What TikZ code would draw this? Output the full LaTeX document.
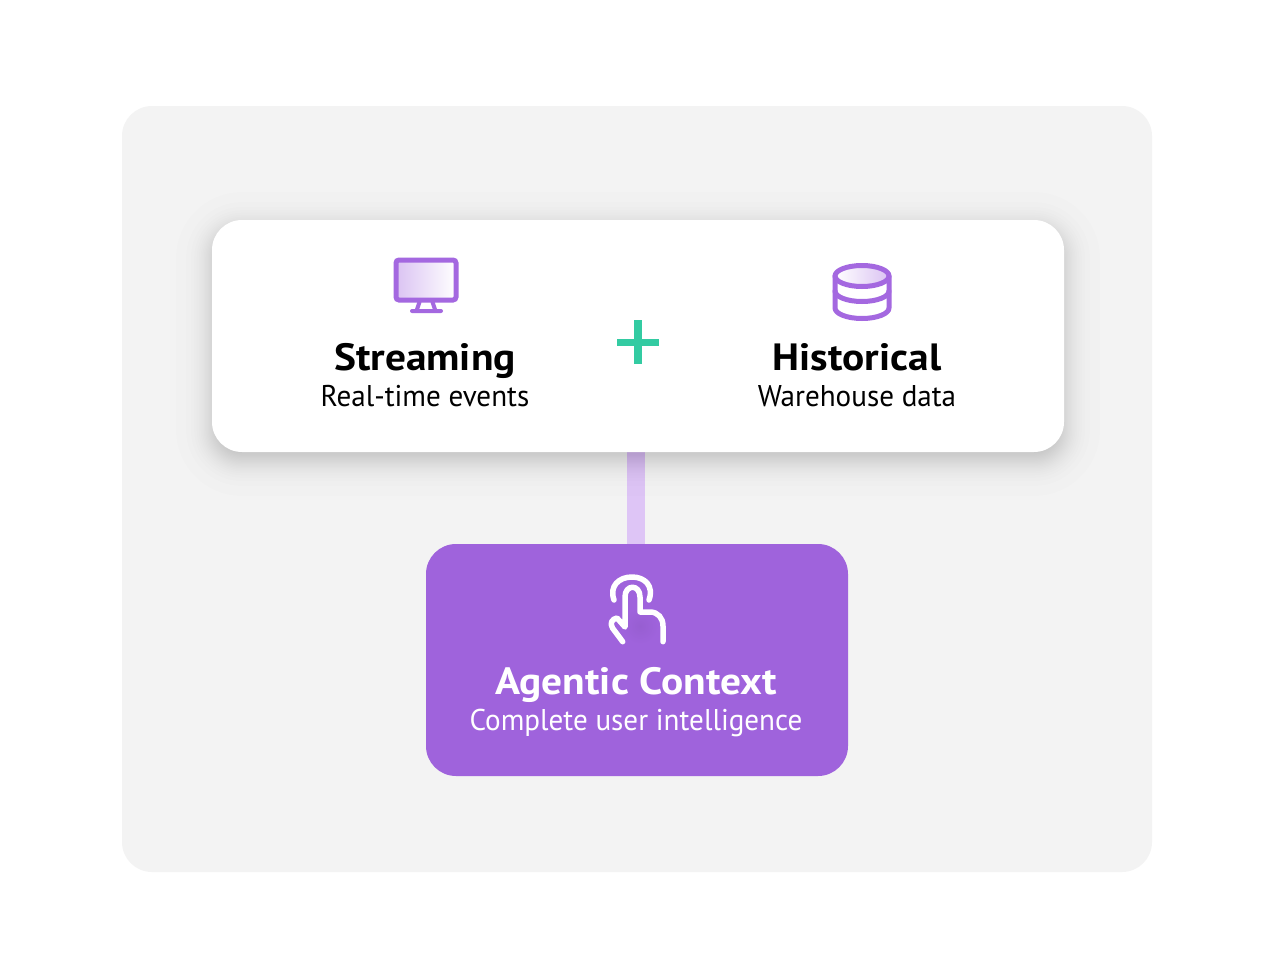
\documentclass[tikz,border=0pt]{standalone}
\usepackage{fontspec}
\setmainfont{PT Sans}[FakeStretch=0.97,BoldFeatures={FakeStretch=1.09}]
\usetikzlibrary{calc}
\definecolor{panelgray}{HTML}{F3F3F3}
\definecolor{brandpurple}{HTML}{9F63DC}
\definecolor{iconpurple}{HTML}{A468E0}
\definecolor{plusgreen}{HTML}{33CBA2}
\definecolor{connpurple}{HTML}{DEC5F6}
\pgfdeclarelayer{panellayer}
\pgfdeclarelayer{connlayer}
\pgfdeclarelayer{shadowlayer}
\pgfsetlayers{panellayer,connlayer,shadowlayer,main}
\tikzset{
  box/.style={rectangle,rounded corners=30pt,inner sep=0pt,outer sep=0pt,anchor=north west},
  titletext/.style={anchor=base,inner sep=0pt,font=\fontsize{38}{38}\selectfont\bfseries},
  subtext/.style={anchor=base,inner sep=0pt,font=\fontsize{30}{30}\selectfont},
  connector/.style={line width=18pt,draw=connpurple},
  iconline/.style={draw=iconpurple,line width=5pt,line cap=round,line join=round},
  handline/.style={draw=white,line width=5.5pt,line cap=round,line join=round},
}
\begin{document}
\begin{tikzpicture}[x=1pt,y=-1pt]
\useasboundingbox (0,0) rectangle (1272,980);
\begin{pgfonlayer}{panellayer}
\fill[white] (0,0) rectangle (1272,980);
\node[box,fill=panelgray,minimum width=1030pt,minimum height=766pt] (panel) at (122,106) {};
\end{pgfonlayer}
\node[box,fill=white,minimum width=852pt,minimum height=232pt] (card) at (212,220) {};
\node[box,fill=brandpurple,minimum width=422pt,minimum height=232pt] (ctx) at (426,544) {};
\begin{pgfonlayer}{connlayer}
\draw[connector] ([xshift=-2pt]card.south) -- ([xshift=-1pt]ctx.north);
\end{pgfonlayer}
\begin{pgfonlayer}{shadowlayer}
\foreach \s in {1,2,...,30}{
  \pgfmathsetmacro{\pp}{(\s-0.5)/30}
  \pgfmathsetmacro{\ee}{15*ln(\pp/(1-\pp))/1.702}
  \pgfmathsetmacro{\rr}{max(30+\ee,4)}
  \fill[black,opacity=0.0085,rounded corners=\rr pt]
    ($(card.north west)+({-\ee},{-\ee+8})$) rectangle ($(card.south east)+({\ee},{\ee+8})$);
}
\end{pgfonlayer}
% monitor
\shade[left color=iconpurple!40!white,right color=white] (396,260) rectangle (456,300);
\draw[iconpurple,line width=5pt,rounded corners=3pt] (396,260) rectangle (456,300);
\draw[iconpurple,line width=4pt,line cap=round,line join=round] (419.5,302) -- (416.5,311) (432.5,302) -- (435.5,311) (412,311) -- (441,311);
% database
\shade[left color=white,right color=iconpurple!40!white] (862,276) ellipse [x radius=27pt,y radius=10.5pt];
\draw[iconline] (862,276) ellipse [x radius=27pt,y radius=10.5pt];
\draw[iconline] (835,276) -- (835,308) .. controls (835,313.8) and (847.1,318.5) .. (862,318.5) .. controls (876.9,318.5) and (889,313.8) .. (889,308) -- (889,276);
\draw[iconline] (835,291) .. controls (835,296.8) and (847.1,301.5) .. (862,301.5) .. controls (876.9,301.5) and (889,296.8) .. (889,291);
% plus
\fill[plusgreen] (634,320) rectangle (642,364);
\fill[plusgreen] (617,339) rectangle (659,345.5);
% hand
\shade[inner color=brandpurple!95!black,outer color=brandpurple] (640,626) circle (18pt);
\draw[handline] (614,600) .. controls (609,586) and (619,577) .. (632,577) .. controls (645,577) and (654,586) .. (649,600);
\draw[handline] (622.7,641.7) -- (612.5,628) .. controls (609.5,623) and (612,619) .. (617,618) -- (625,627) -- (625,597) .. controls (625,584) and (640,584) .. (640,597) -- (640,612) -- (650,612) .. controls (658,612) and (663,618) .. (663,626) -- (663,641.7);
\node[titletext] (t1) at (425,370) {Streaming};
\node[subtext] (s1) at (425,406) {Real-time events};
\node[titletext] (t2) at (857,370) {Historical};
\node[subtext] (s2) at (857,406) {Warehouse data};
\node[titletext,text=white] (t3) at (636,694) {Agentic Context};
\node[subtext,text=white] (s3) at (636,730) {Complete user intelligence};
\end{tikzpicture}
\end{document}
